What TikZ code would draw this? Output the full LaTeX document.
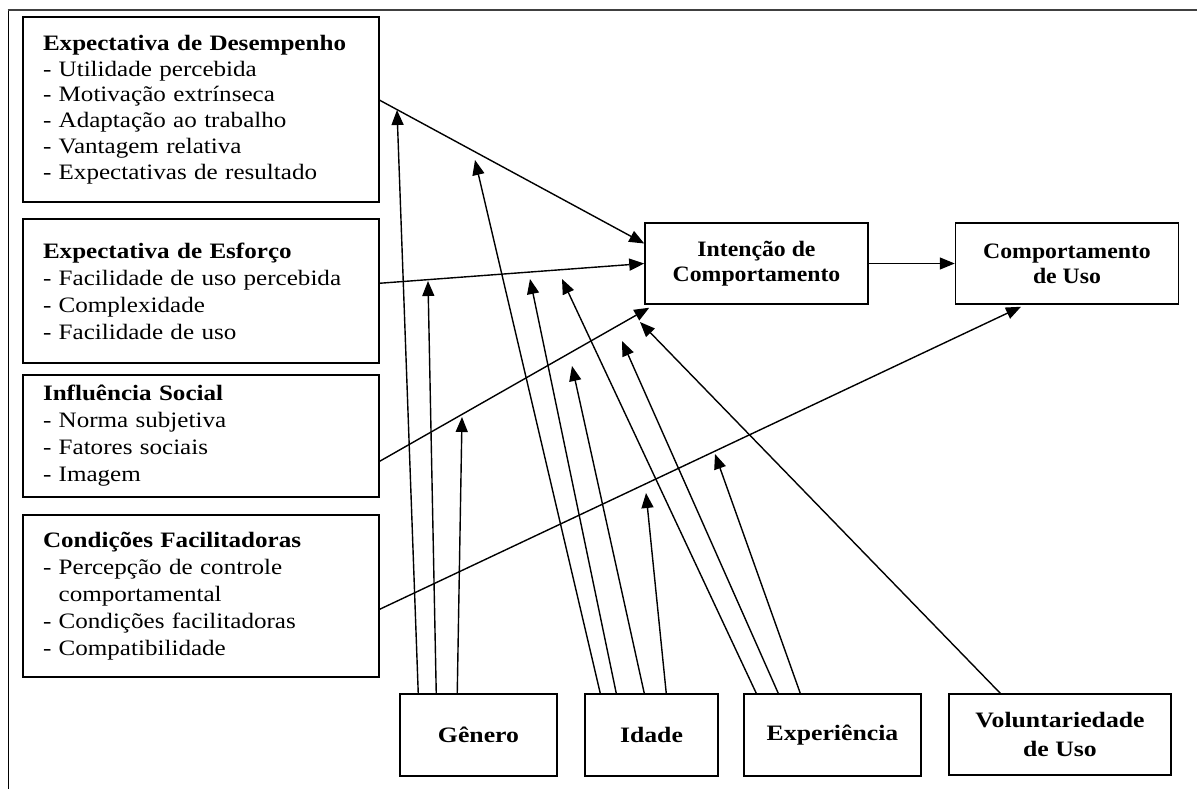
\documentclass[tikz,border=0pt]{standalone}
\usepackage{fontspec}
\setmainfont{Liberation Serif}
\newfontfamily\lbox{Liberation Serif}[FakeStretch=1.14]
\newfontfamily\rbox{Liberation Serif}[FakeStretch=1.08]
\newfontfamily\bbox{Liberation Serif}[FakeStretch=1.17]
\usetikzlibrary{arrows.meta}
\begin{document}
\begin{tikzpicture}[x=1pt,y=-1pt,
  box/.style={draw,line width=1.5pt,inner sep=0pt},
  lbx/.style={box,minimum width=356pt,text width=316pt,align=left},
  bbx/.style={box,align=center,minimum height=82pt,font=\bbox\bfseries\fontsize{22}{29}\selectfont},
  rbx/.style={box,align=center,minimum width=223pt,minimum height=81pt,font=\rbox\bfseries\fontsize{22}{25}\selectfont},
  ln/.style={line width=1.4pt},
  arr/.style={line width=1.4pt,-{Triangle[length=15pt,width=12pt]}}]
\useasboundingbox (0,0) rectangle (1197,789);
\fill[white] (0,0) rectangle (1197,789);
% frame
\draw[line width=1pt] (8,789) -- (8,10.5);
\draw[line width=2pt,black!75] (7.5,10.5) -- (1197,10.5);

% left boxes
\node[lbx,minimum height=185pt,font=\lbox\fontsize{22}{25.7}\selectfont] (b1) at (201,109.5)
 {\textbf{Expectativa de Desempenho}\\- Utilidade percebida\\- Motivação extrínseca\\- Adaptação ao trabalho\\- Vantagem relativa\\- Expectativas de resultado};
\node[lbx,minimum height=144pt,font=\lbox\fontsize{22}{27}\selectfont] (b2) at (201,291)
 {\textbf{Expectativa de Esforço}\\- Facilidade de uso percebida\\- Complexidade\\- Facilidade de uso};
\node[lbx,minimum height=122pt,font=\lbox\fontsize{22}{27}\selectfont] (b3) at (201,436)
 {\textbf{Influência Social}\\- Norma subjetiva\\- Fatores sociais\\- Imagem};
\node[lbx,minimum height=162pt,font=\lbox\fontsize{22}{27}\selectfont] (b4) at (201,596)
 {\textbf{Condições Facilitadoras}\\- Percepção de controle\\\phantom{- }comportamental\\- Condições facilitadoras\\- Compatibilidade};

% right boxes
\node[rbx] (int) at (756.5,263.5) {Intenção de\\Comportamento};
\node[rbx] (cu) at (1067,263.5) {Comportamento\\de Uso};

% bottom boxes
\node[bbx,minimum width=157pt] (gen) at (478.5,735) {Gênero};
\node[bbx,minimum width=133pt] (ida) at (651.5,735) {Idade};
\node[bbx,minimum width=177pt] (exp) at (832.5,735) {Experiência};
\node[bbx,minimum width=222pt,minimum height=81pt] (vol) at (1060,734.5) {Voluntariedade\\de Uso};

% main paths
\draw[arr] ([yshift=-84pt]b1.north east) -- ([yshift=20pt]int.west);
\draw[arr] ([yshift=-65pt]b2.north east) -- (int.west);
\draw[arr] ([yshift=-87pt]b3.north east) -- ([xshift=5pt,yshift=-3pt]int.south west);
\draw[arr] ([yshift=-95pt]b4.north east) -- ([xshift=-46pt,yshift=-2pt]cu.south);
\draw[arr] (int.east) -- (cu.west);

% moderator targets
\coordinate (g1) at (397,110);
\coordinate (g2) at (428,281);
\coordinate (g3) at (462,417);
\coordinate (i1) at (475,160);
\coordinate (i2) at (530,279);
\coordinate (i3) at (572,366);
\coordinate (i4) at (646,493);
\coordinate (e1) at (562,279);
\coordinate (e2) at (622,341);
\coordinate (e3) at (715,454);
\coordinate (v1) at (640,322);

\draw[arr] ([xshift=19pt]gen.north west) -- (g1);
\draw[arr] ([xshift=37pt]gen.north west) -- (g2);
\draw[arr] ([xshift=58pt]gen.north west) -- (g3);
\draw[arr] ([xshift=16pt]ida.north west) -- (i1);
\draw[arr] ([xshift=32pt]ida.north west) -- (i2);
\draw[arr] ([xshift=60pt]ida.north west) -- (i3);
\draw[arr] ([xshift=82pt]ida.north west) -- (i4);
\draw[arr] ([xshift=13pt]exp.north west) -- (e1);
\draw[arr] ([xshift=35pt]exp.north west) -- (e2);
\draw[arr] ([xshift=57pt]exp.north west) -- (e3);
\draw[arr] ([xshift=52pt]vol.north west) -- (v1);
\end{tikzpicture}
\end{document}
